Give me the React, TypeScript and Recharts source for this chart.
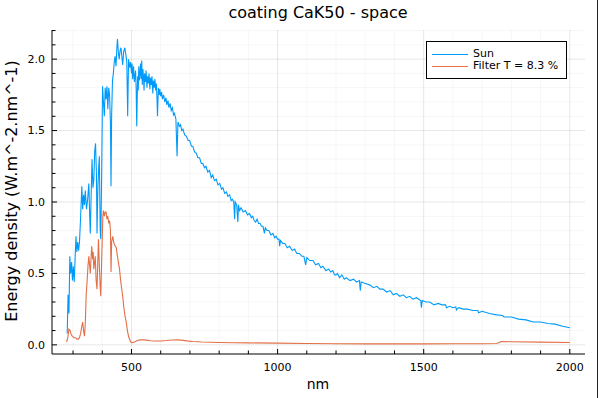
import React from "react";
import { LineChart, Line, XAxis, YAxis, CartesianGrid } from "recharts";

const title = "coating CaK50 - space";
const xLabel = "nm";
const yLabel = "Energy density (W.m^-2.nm^-1)";
const sunName = "Sun";
const filterName = "Filter T = 8.3 %";

const sunNm = [
  280, 283, 286, 289, 292, 295, 298, 301, 304, 307, 310, 313, 316, 319, 322, 325, 328, 330, 333, 336,
  339, 342, 346, 350, 354, 357, 359, 362, 365, 368, 371, 374, 377, 380, 382, 385, 388, 390, 393, 395,
  398, 401, 404, 407, 410, 413, 416, 419, 422, 425, 428, 430, 432, 435, 438, 441, 444, 447, 450, 452,
  455, 458, 461, 464, 467, 470, 473, 477, 480, 484, 487, 490, 494, 497, 500, 502, 504, 507, 510, 514,
  516, 518, 521, 523, 525, 527, 529, 531, 533, 535, 537, 539, 541, 543, 545, 548, 550, 553, 555, 558,
  560, 563, 565, 568, 570, 573, 575, 578, 580, 583, 585, 587, 589, 592, 595, 597, 600, 603, 606, 610,
  614, 618, 621, 625, 628, 632, 636, 640, 644, 647, 652, 656, 659, 664, 668, 672, 676, 682, 688, 694,
  699, 705, 710, 716, 722, 727, 733, 739, 744, 750, 755, 761, 767, 773, 778, 784, 790, 796, 802, 808,
  813, 819, 825, 830, 836, 841, 845, 850, 853, 855, 860, 864, 866, 870, 875, 882, 890, 897, 904, 910,
  915, 920, 925, 930, 935, 940, 945, 950, 955, 958, 964, 970, 977, 984, 990, 995, 1000, 1005, 1007, 1010,
  1018, 1025, 1033, 1041, 1050, 1058, 1066, 1075, 1083, 1090, 1096, 1100, 1110, 1121, 1130, 1140, 1148, 1155, 1165, 1175,
  1182, 1189, 1195, 1200, 1205, 1212, 1220, 1228, 1235, 1248, 1260, 1270, 1280, 1283, 1286, 1300, 1315, 1328, 1340, 1350,
  1361, 1373, 1385, 1396, 1406, 1418, 1430, 1441, 1452, 1463, 1475, 1490, 1492, 1495, 1508, 1521, 1535, 1550, 1562, 1575,
  1578, 1589, 1600, 1610, 1612, 1620, 1635, 1650, 1668, 1685, 1688, 1700, 1725, 1750, 1770, 1775, 1800, 1825, 1850, 1875,
  1900, 1925, 1950, 1975, 2000,
];
const sunVal = [
  0.08, 0.35, 0.22, 0.62, 0.5, 0.58, 0.45, 0.55, 0.44, 0.6, 0.76, 0.65, 0.72, 0.66, 0.72, 0.85, 1.0, 1.11, 0.95, 1.05,
  0.98, 1.08, 0.95, 1.02, 1.13, 0.9, 0.78, 1.05, 1.3, 1.1, 1.15, 1.35, 1.41, 1.2, 0.78, 1.1, 1.25, 1.32, 0.8, 0.74,
  1.2, 1.81, 1.7, 1.6, 1.8, 1.72, 1.81, 1.65, 1.8, 1.75, 1.55, 1.11, 1.6, 1.85, 1.9, 1.98, 2.02, 1.95, 2.08, 2.14,
  2.05, 2.0, 2.06, 2.08, 2.02, 1.96, 2.05, 2.08, 2.04, 1.98, 1.6, 2.0, 1.94, 1.98, 1.9, 1.97, 1.86, 1.95, 1.84, 1.92,
  1.8, 1.53, 1.88, 1.78, 1.95, 1.85, 1.9, 1.97, 1.86, 1.99, 1.82, 1.93, 1.88, 1.78, 1.9, 1.84, 1.92, 1.8, 1.88, 1.83,
  1.9, 1.79, 1.87, 1.82, 1.88, 1.76, 1.85, 1.8, 1.86, 1.78, 1.83, 1.74, 1.6, 1.8, 1.75, 1.79, 1.74, 1.77, 1.72, 1.75,
  1.7, 1.73, 1.68, 1.71, 1.66, 1.69, 1.64, 1.66, 1.61, 1.62, 1.58, 1.32, 1.56, 1.53, 1.54, 1.5, 1.51, 1.47, 1.46, 1.43,
  1.43, 1.39, 1.39, 1.35, 1.34, 1.31, 1.31, 1.27, 1.27, 1.24, 1.25, 1.21, 1.22, 1.17, 1.19, 1.15, 1.16, 1.12, 1.13, 1.09,
  1.1, 1.06, 1.07, 1.04, 1.05, 1.01, 1.02, 1.0, 0.88, 1.0, 0.98, 0.86, 0.98, 0.94, 0.96, 0.93, 0.94, 0.91, 0.92, 0.89,
  0.9, 0.87, 0.86, 0.88, 0.85, 0.85, 0.83, 0.83, 0.78, 0.82, 0.8, 0.8, 0.77, 0.78, 0.75, 0.76, 0.74, 0.74, 0.69, 0.73,
  0.71, 0.71, 0.68, 0.69, 0.66, 0.67, 0.64, 0.64, 0.62, 0.62, 0.56, 0.61, 0.59, 0.59, 0.56, 0.57, 0.54, 0.55, 0.52, 0.53,
  0.51, 0.52, 0.49, 0.49, 0.5, 0.47, 0.49, 0.46, 0.47, 0.45, 0.46, 0.44, 0.45, 0.38, 0.44, 0.43, 0.42, 0.4, 0.41, 0.39,
  0.39, 0.37, 0.38, 0.35, 0.36, 0.34, 0.35, 0.33, 0.34, 0.32, 0.33, 0.31, 0.26, 0.31, 0.3, 0.3, 0.28, 0.29, 0.28, 0.28,
  0.26, 0.27, 0.26, 0.265, 0.245, 0.26, 0.25, 0.25, 0.24, 0.24, 0.225, 0.235, 0.22, 0.21, 0.205, 0.195, 0.195, 0.18, 0.175, 0.16,
  0.16, 0.15, 0.145, 0.13, 0.12,
];

const filterNm = [
  278, 282, 286, 290, 294, 298, 303, 308, 313, 318, 322, 326, 330, 333, 336, 339, 342, 345, 348, 351,
  354, 357, 359, 362, 364, 367, 369, 371, 374, 376, 379, 382, 385, 387, 390, 393, 395, 398, 400, 402,
  404, 407, 410, 413, 416, 419, 422, 425, 428, 430, 432, 436, 439, 442, 445, 448, 452, 455, 459, 463,
  466, 470, 474, 478, 482, 486, 490, 494, 498, 503, 510, 520, 530, 540, 550, 565, 580, 600, 620, 640,
  655, 670, 690, 710, 740, 770, 800, 850, 900, 1000, 1100, 1200, 1300, 1400, 1500, 1600, 1700, 1750, 1758, 1765,
  1800, 1900, 2000,
];
const filterVal = [
  0.02, 0.05, 0.11, 0.1, 0.07, 0.06, 0.05, 0.05, 0.04, 0.04, 0.05, 0.08, 0.13, 0.16, 0.1, 0.06, 0.15, 0.35, 0.44, 0.55,
  0.62, 0.55, 0.5, 0.62, 0.69, 0.6, 0.65, 0.53, 0.58, 0.62, 0.45, 0.39, 0.6, 0.74, 0.55, 0.4, 0.34, 0.6, 0.75, 0.9,
  0.94, 0.9, 0.93, 0.93, 0.88, 0.9, 0.85, 0.87, 0.8, 0.51, 0.72, 0.76, 0.72, 0.7, 0.69, 0.68, 0.62, 0.58, 0.53, 0.45,
  0.4, 0.34, 0.26, 0.2, 0.16, 0.1, 0.06, 0.035, 0.02, 0.015, 0.02, 0.03, 0.035, 0.036, 0.033, 0.029, 0.027, 0.027, 0.03, 0.034,
  0.035, 0.033, 0.028, 0.024, 0.02, 0.018, 0.017, 0.015, 0.014, 0.012, 0.01, 0.008, 0.007, 0.007, 0.007, 0.008, 0.008, 0.009, 0.016, 0.023,
  0.022, 0.019, 0.016,
];

const xMajorTicks = [500, 1000, 1500, 2000];
const xMinorTicks = [300, 400, 500, 600, 700, 800, 900, 1000, 1100, 1200, 1300, 1400, 1500, 1600, 1700, 1800, 1900, 2000];
const yMajorTicks = [0, 0.5, 1, 1.5, 2];
const yMinorTicks = [0, 0.1, 0.2, 0.3, 0.4, 0.5, 0.6, 0.7, 0.8, 0.9, 1, 1.1, 1.2, 1.3, 1.4, 1.5, 1.6, 1.7, 1.8, 1.9, 2, 2.1, 2.2];

const sunData = sunNm.map((x, i) => ({ x, y: sunVal[i] }));
const filterData = filterNm.map((x, i) => ({ x, y: filterVal[i] }));

const FONT = "DejaVu Sans";
const SUN_COLOR = "#009AFA";
const FILTER_COLOR = "#E36F47";

const XTick = (props: any) => {
  const { x, y, payload } = props;
  const v = payload.value;
  const major = xMajorTicks.includes(v);
  return (
    <g>
      <line x1={x} x2={x} y1={y} y2={y - (major ? 5 : 3.5)} stroke="#000" strokeWidth={1} />
      {major && (
        <text x={x} y={y + 17} textAnchor="middle" fontSize={11} fontFamily={FONT} fill="#000">
          {v}
        </text>
      )}
    </g>
  );
};

const YTick = (props: any) => {
  const { x, y, payload } = props;
  const v = payload.value;
  const major = yMajorTicks.includes(v);
  return (
    <g>
      <line x1={x} x2={x + (major ? 5 : 3.5)} y1={y} y2={y} stroke="#000" strokeWidth={1} />
      {major && (
        <text x={x - 7} y={y} dy="0.35em" textAnchor="end" fontSize={11} fontFamily={FONT} fill="#000">
          {v.toFixed(1)}
        </text>
      )}
    </g>
  );
};

export default function App() {
  return (
    <div style={{ position: "absolute", left: 0, top: 0, width: 599, height: 398, background: "#fff", fontFamily: FONT }}>
      <LineChart width={599} height={398} margin={{ top: 30, right: 14, bottom: 0, left: 0 }}>
        <CartesianGrid
          stroke="#000"
          strokeOpacity={0.035}
          horizontalValues={yMinorTicks}
          verticalValues={xMinorTicks}
        />
        <CartesianGrid
          stroke="#000"
          strokeOpacity={0.065}
          horizontalValues={yMajorTicks}
          verticalValues={xMajorTicks}
        />
        <XAxis
          type="number"
          dataKey="x"
          domain={[228, 2052]}
          ticks={xMinorTicks}
          allowDataOverflow
          height={44}
          tickSize={0}
          tickMargin={0}
          tickLine={false}
          axisLine={{ stroke: "#000", strokeWidth: 1 }}
          tick={<XTick />}
          interval={0}
        />
        <YAxis
          type="number"
          dataKey="y"
          domain={[-0.064, 2.204]}
          ticks={yMinorTicks}
          allowDataOverflow
          width={52}
          tickSize={0}
          tickMargin={0}
          tickLine={false}
          axisLine={{ stroke: "#000", strokeWidth: 1 }}
          tick={<YTick />}
          interval={0}
        />
        <Line
          data={sunData}
          dataKey="y"
          type="linear"
          stroke={SUN_COLOR}
          strokeWidth={1.1}
          dot={false}
          isAnimationActive={false}
          name={sunName}
        />
        <Line
          data={filterData}
          dataKey="y"
          type="linear"
          stroke={FILTER_COLOR}
          strokeWidth={1.1}
          dot={false}
          isAnimationActive={false}
          name={filterName}
        />
      </LineChart>
      <div style={{ position: "absolute", left: 118, top: 1, width: 400, textAlign: "center", fontSize: 16, lineHeight: "24px", color: "#000" }}>
        {title}
      </div>
      <div style={{ position: "absolute", left: 218, top: 374, width: 200, textAlign: "center", fontSize: 14, lineHeight: "20px", color: "#000" }}>
        {xLabel}
      </div>
      <div
        style={{
          position: "absolute",
          left: 12 - 150,
          top: 191 - 10,
          width: 300,
          height: 20,
          lineHeight: "20px",
          textAlign: "center",
          fontSize: 16,
          color: "#000",
          transform: "rotate(-90deg)",
          transformOrigin: "150px 10px",
          whiteSpace: "nowrap",
        }}
      >
        {yLabel}
      </div>
      <div
        style={{
          position: "absolute",
          left: 426,
          top: 41,
          width: 139,
          height: 36,
          border: "1px solid #000",
          background: "#fff",
          fontSize: 11,
          color: "#000",
        }}
      >
        <div style={{ position: "absolute", left: 5, top: 12, width: 36, height: 1.2, background: SUN_COLOR }} />
        <div style={{ position: "absolute", left: 46, top: 5, lineHeight: "14px" }}>{sunName}</div>
        <div style={{ position: "absolute", left: 5, top: 24, width: 36, height: 1.2, background: FILTER_COLOR }} />
        <div style={{ position: "absolute", left: 46, top: 17, lineHeight: "14px", whiteSpace: "nowrap" }}>{filterName}</div>
      </div>
      <div style={{ position: "absolute", left: 597, top: 0, width: 1, height: 398, background: "#222" }} />
    </div>
  );
}
